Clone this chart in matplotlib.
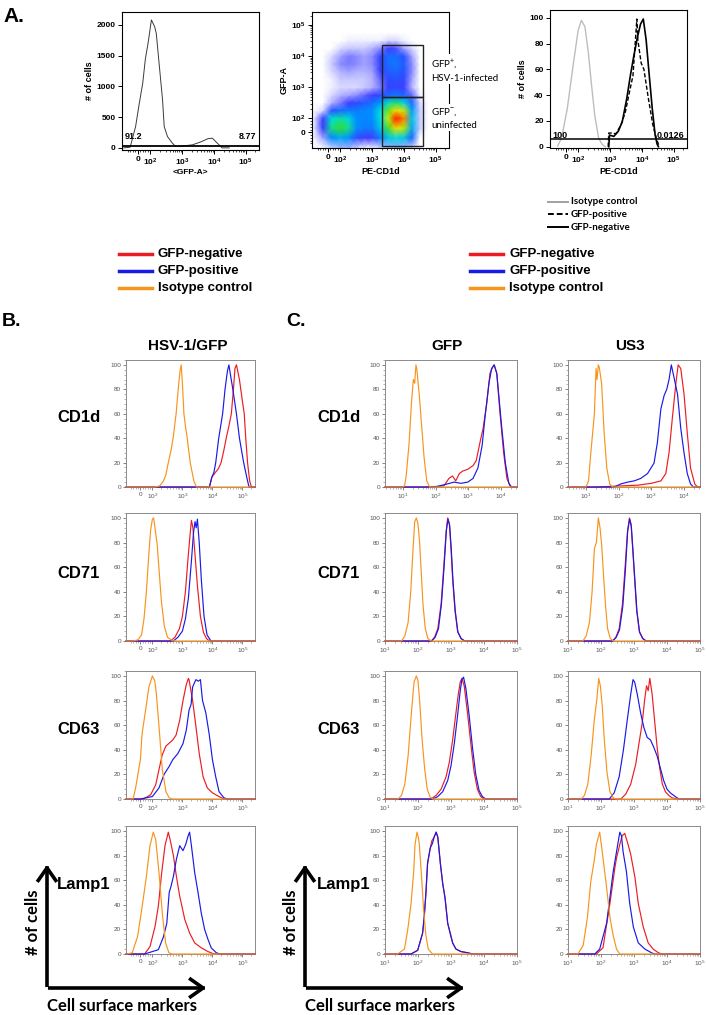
import matplotlib
matplotlib.use("Agg")
import matplotlib.pyplot as plt
import numpy as np
from matplotlib.colors import LinearSegmentedColormap
from matplotlib.lines import Line2D
from matplotlib.patches import FancyArrowPatch, Rectangle
from matplotlib.ticker import MultipleLocator, NullFormatter, FixedLocator

W, H = 706, 1015
plt.rcParams["font.family"] = ["Liberation Sans", "DejaVu Sans"]
plt.rcParams["mathtext.fontset"] = "custom"
plt.rcParams["mathtext.rm"] = "Liberation Sans"
plt.rcParams["mathtext.bf"] = "Liberation Sans:bold"
plt.rcParams["mathtext.it"] = "Liberation Sans:italic"

RED = "#ec1c24"
BLUE = "#1a1ae6"
ORANGE = "#f7941d"

# ---------------- Panel A data ----------------
# A1: GFP-A histogram (counts)
A_GFP_X = [-110, -60, -17, 10, 39, 60, 81, 107, 135, 152, 191, 240, 271, 343, 490, 620,
           1000, 2100, 4000, 6500, 8900, 12000, 18000, 30000]
A_GFP_Y = [0, 10, 347, 700, 1052, 1450, 1702, 2081, 1972, 1865, 1322, 780, 347, 184, 76, 21,
           30, 49, 100, 150, 157, 90, 0, 0]
A_GFP_GATE = 35
A_GFP_PCT = ["91.2", "8.77"]

# A2: PE-CD1d vs GFP-A density (node grid, rows = GFP-A, cols = PE-CD1d)
A_DOT_X = [-120, -40, 30, 100, 180, 320, 560, 1000, 1800, 3200, 5600, 10000, 18000, 32000, 56000]
A_DOT_Y = [-120, -40, 30, 100, 180, 320, 560, 1000, 1800, 3200, 5600, 10000, 18000, 32000, 56000]
A_DOT_Z = [
    [0, 0, 0.02, 0.04, 0.04, 0.02, 0, 0, 0.02, 0.04, 0.05, 0.04, 0.02, 0, 0],
    [0, 0.05, 0.28, 0.35, 0.3, 0.15, 0.1, 0.1, 0.25, 0.4, 0.45, 0.4, 0.2, 0, 0],
    [0, 0.12, 0.52, 0.6, 0.52, 0.3, 0.25, 0.25, 0.4, 0.62, 0.8, 0.72, 0.35, 0.03, 0],
    [0, 0.1, 0.45, 0.5, 0.44, 0.3, 0.28, 0.3, 0.45, 0.74, 0.98, 0.9, 0.4, 0.03, 0],
    [0, 0.02, 0.15, 0.22, 0.25, 0.25, 0.28, 0.3, 0.45, 0.66, 0.8, 0.74, 0.33, 0.03, 0],
    [0, 0, 0.04, 0.07, 0.1, 0.14, 0.18, 0.22, 0.32, 0.48, 0.54, 0.44, 0.22, 0.02, 0],
    [0, 0, 0.02, 0.04, 0.05, 0.06, 0.08, 0.1, 0.14, 0.2, 0.24, 0.2, 0.08, 0.01, 0],
    [0, 0, 0.01, 0.02, 0.02, 0.02, 0.03, 0.04, 0.07, 0.12, 0.13, 0.1, 0.04, 0, 0],
    [0, 0, 0.01, 0.03, 0.03, 0.03, 0.03, 0.04, 0.08, 0.14, 0.16, 0.13, 0.05, 0, 0],
    [0, 0, 0.02, 0.04, 0.05, 0.04, 0.04, 0.05, 0.1, 0.18, 0.2, 0.16, 0.06, 0, 0],
    [0, 0, 0.03, 0.06, 0.07, 0.06, 0.05, 0.06, 0.12, 0.22, 0.24, 0.18, 0.06, 0, 0],
    [0, 0, 0.02, 0.05, 0.07, 0.06, 0.05, 0.06, 0.12, 0.22, 0.22, 0.15, 0.05, 0, 0],
    [0, 0, 0, 0.02, 0.03, 0.03, 0.03, 0.04, 0.06, 0.1, 0.09, 0.05, 0.02, 0, 0],
    [0, 0, 0, 0, 0.01, 0.01, 0.01, 0.01, 0.01, 0.02, 0.02, 0.01, 0, 0, 0],
    [0, 0, 0, 0, 0, 0, 0, 0, 0, 0, 0, 0, 0, 0, 0],
]
A_GATE_X = [2100, 40000]
A_GATE_Y = [-100, 500, 22000]

# A3: PE-CD1d histograms (% of max)
A_ISO_X = [-64, -33, 12, 57, 97, 124, 160, 205, 260, 325, 430, 555, 700]
A_ISO_Y = [0.5, 6.8, 29.6, 62.5, 90, 98, 93, 72.7, 47, 24.5, 6.8, 1.8, 0]
A_POS_X = [860, 900, 1100, 1500, 2200, 3000, 4000, 5200, 6900, 7400, 9400, 11500, 16000, 22000, 28000, 35000]
A_POS_Y = [0, 10.6, 10.6, 10, 17, 27, 42, 55, 99, 83, 65, 60, 37, 17, 7, 0]
A_NEG_X = [900, 950, 1300, 1800, 2400, 3300, 4300, 5500, 7200, 9000, 11000, 13500, 17000, 21000, 26000, 30000, 33000]
A_NEG_Y = [0, 9, 8, 12, 19.5, 37, 55, 70, 85, 95, 99, 83, 55, 30, 9, 2, 0]
A_CD1D_GATE = 5.6
A_CD1D_PCT = ["100", "0.0126"]

# ---------------- Panel B data (HSV-1/GFP, biexponential x) ----------------
B_CD1D_ISO_X = [126, 178, 234, 282, 339, 417, 490, 617, 724, 832, 912, 1000, 1122, 1259, 1445, 1820, 2399, 2951]
B_CD1D_ISO_Y = [0, 1, 5, 10, 20, 30, 40, 60, 80, 95, 100, 85, 60, 50, 40, 20, 5, 0]
B_CD1D_POS_X = [7943, 9550, 11220, 12880, 16220, 21880, 26300, 31620, 35480, 39810, 47860, 63100, 79430,
                109650, 147900, 165960]
B_CD1D_POS_Y = [0, 8, 12, 20, 40, 60, 80, 95, 100, 92, 80, 60, 40, 20, 5, 0]
B_CD1D_NEG_X = [7943, 9550, 12590, 15850, 19500, 23990, 28840, 35480, 42660, 50120, 56230, 63100, 79430,
                100000, 114800, 128800, 147900, 173800, 199500]
B_CD1D_NEG_Y = [0, 8, 12, 15, 20, 30, 40, 50, 60, 80, 97, 100, 88, 70, 60, 40, 20, 5, 0]

B_CD71_ISO_X = [-60, -20, 10, 30, 50, 70, 85, 100, 110, 125, 145, 170, 200, 250, 320, 420, 520]
B_CD71_ISO_Y = [0, 1, 5, 18, 40, 70, 90, 99, 100, 90, 78, 55, 32, 12, 3, 1, 0]
B_CD71_NEG_X = [398, 562, 794, 1000, 1259, 1514, 1778, 1995, 2239, 2630, 3162, 3981, 5012, 6310, 7943]
B_CD71_NEG_Y = [0, 3, 10, 20, 40, 65, 85, 98, 92, 70, 45, 20, 7, 2, 0]
B_CD71_POS_X = [501, 708, 1000, 1259, 1585, 1995, 2344, 2630, 2884, 3162, 3631, 4266, 5248, 6607, 8913]
B_CD71_POS_Y = [0, 3, 8, 18, 35, 65, 88, 97, 92, 99, 80, 50, 20, 5, 0]

B_CD63_ISO_X = [-60, -38, 0, 14, 43, 71, 100, 120, 135, 166, 214, 282, 363, 450]
B_CD63_ISO_Y = [0, 10, 32, 53, 72, 91, 100, 96, 86, 59, 24, 6, 1, 0]
B_CD63_NEG_X = [20, 43, 86, 129, 166, 214, 282, 479, 617, 813, 1047, 1349, 1585, 1660, 2188, 2818, 3631,
                4898, 6761, 10000, 16600, 23990]
B_CD63_NEG_Y = [0, 1, 3.5, 11.6, 24, 36, 43, 48, 52, 64, 80, 93, 98, 97, 80, 59, 37, 18, 9, 5, 2, 0]
B_CD63_POS_X = [0, 100, 166, 245, 363, 479, 708, 1047, 1349, 1660, 1950, 2188, 2818, 3388, 3981, 4677,
                6026, 7762, 10000, 12880, 16600, 23990, 31620]
B_CD63_POS_Y = [0, 2, 9, 20, 26.5, 32, 37, 45, 56, 72, 77, 91, 97, 95.7, 97, 80, 70, 53, 32, 18, 6, 1, 0]

B_LAMP1_ISO_X = [-110, -68, -24, 11, 50, 80, 107, 129, 166, 214, 275, 355, 450]
B_LAMP1_ISO_Y = [0, 1, 14, 36, 63, 88, 99, 93, 66, 33, 9, 1, 0]
B_LAMP1_NEG_X = [35, 80, 123, 158, 204, 263, 339, 389, 501, 631, 813, 1202, 1738, 2570, 4266, 7079, 10000, 14000]
B_LAMP1_NEG_Y = [0, 6, 22.5, 39, 66, 88, 99, 93, 80, 63, 47, 28, 17, 9, 5, 2, 0.5, 0]
B_LAMP1_POS_X = [35, 158, 234, 302, 363, 417, 501, 631, 813, 1047, 1288, 1549, 1738, 1995, 2570, 3311,
                 4266, 5495, 7079, 9120, 13490, 18000]
B_LAMP1_POS_Y = [0, 3.5, 14, 25, 50, 55, 63, 77, 88, 84, 89, 96, 99, 88, 66, 50, 33, 20, 12, 5, 1, 0]

# ---------------- Panel C data (log10 fluorescence) ----------------
C_GFP_CD1D_ISO_LX = [1.0, 1.05, 1.1, 1.19, 1.26, 1.32, 1.36, 1.4, 1.43, 1.47, 1.5, 1.58, 1.65, 1.73, 1.82]
C_GFP_CD1D_ISO_Y = [0, 1, 9, 36, 68, 88, 85, 100, 96, 84, 76, 48, 24, 5, 0]
C_GFP_CD1D_NEG_LX = [2.0, 2.26, 2.41, 2.52, 2.62, 2.73, 2.83, 2.99, 3.15, 3.25, 3.36, 3.46, 3.57, 3.67, 3.75,
                     3.8, 3.88, 3.98, 4.09, 4.19, 4.3]
C_GFP_CD1D_NEG_Y = [0, 1, 7, 9, 5, 11, 13, 14.5, 17.5, 21.6, 36, 48, 68, 93, 98, 100, 93, 60, 28, 7, 0]
C_GFP_CD1D_POS_LX = [1.7, 2.05, 2.36, 2.57, 2.78, 2.99, 3.15, 3.3, 3.43, 3.53, 3.64, 3.72, 3.8, 3.88, 4.02,
                     4.14, 4.25, 4.33]
C_GFP_CD1D_POS_Y = [0, 0.5, 2.5, 4, 3, 4, 7, 15.5, 34, 60, 85, 97, 100, 93, 52, 20, 3, 0]

C_US3_CD1D_ISO_LX = [1.0, 1.08, 1.15, 1.26, 1.31, 1.34, 1.38, 1.41, 1.48, 1.56, 1.64, 1.73, 1.81]
C_US3_CD1D_ISO_Y = [0, 5, 28, 60, 97, 88, 100, 98, 85, 44, 15.5, 2.5, 0]
C_US3_CD1D_NEG_LX = [1.3, 2.17, 2.6, 3.0, 3.3, 3.45, 3.55, 3.65, 3.76, 3.83, 3.91, 4.01, 4.11, 4.21, 4.34, 4.42]
C_US3_CD1D_NEG_Y = [0, 1, 1.5, 3, 5, 11, 28, 56, 85, 100, 97, 76, 44, 15.5, 2.5, 0]
C_US3_CD1D_POS_LX = [1.87, 2.07, 2.28, 2.48, 2.68, 2.89, 3.09, 3.19, 3.3, 3.4, 3.48, 3.55, 3.62, 3.7, 3.81,
                     3.91, 4.01, 4.11, 4.21, 4.3]
C_US3_CD1D_POS_Y = [0, 2.5, 4, 5, 7, 11, 19.6, 36, 64, 75, 80, 88, 100, 90, 76, 48, 28, 11, 2.5, 0]

C_GFP_CD71_ISO_LX = [1.5, 1.6, 1.7, 1.78, 1.85, 1.9, 1.95, 2.0, 2.05, 2.1, 2.15, 2.22, 2.3, 2.4]
C_GFP_CD71_ISO_Y = [0, 4, 15, 40, 75, 97, 100, 95, 80, 55, 30, 10, 2, 0]
C_GFP_CD71_NEG_LX = [2.4, 2.5, 2.6, 2.7, 2.78, 2.85, 2.9, 2.95, 3.0, 3.05, 3.12, 3.2, 3.3, 3.4]
C_GFP_CD71_NEG_Y = [0, 3, 10, 30, 60, 88, 100, 95, 75, 50, 25, 8, 2, 0]
C_GFP_CD71_POS_LX = [2.42, 2.52, 2.62, 2.71, 2.79, 2.86, 2.91, 2.96, 3.01, 3.06, 3.13, 3.21, 3.31, 3.42]
C_GFP_CD71_POS_Y = [0, 3, 10, 30, 60, 90, 99, 94, 74, 49, 24, 7, 2, 0]

C_US3_CD71_ISO_LX = [1.45, 1.55, 1.65, 1.73, 1.8, 1.86, 1.92, 1.97, 2.02, 2.08, 2.14, 2.2, 2.28, 2.38]
C_US3_CD71_ISO_Y = [0, 4, 15, 40, 75, 80, 100, 92, 78, 52, 28, 10, 2, 0]
C_US3_CD71_NEG_LX = [2.35, 2.45, 2.55, 2.65, 2.73, 2.8, 2.86, 2.91, 2.96, 3.02, 3.08, 3.16, 3.26, 3.36]
C_US3_CD71_NEG_Y = [0, 3, 10, 30, 60, 88, 100, 95, 75, 50, 25, 8, 2, 0]
C_US3_CD71_POS_LX = [2.36, 2.46, 2.56, 2.66, 2.74, 2.81, 2.87, 2.92, 2.97, 3.03, 3.09, 3.17, 3.27, 3.37]
C_US3_CD71_POS_Y = [0, 3, 9, 28, 58, 90, 99, 93, 73, 48, 24, 7, 2, 0]

C_GFP_CD63_ISO_LX = [1.4, 1.5, 1.6, 1.7, 1.8, 1.88, 1.95, 2.0, 2.05, 2.12, 2.2, 2.28, 2.36, 2.45]
C_GFP_CD63_ISO_Y = [0, 3, 12, 35, 70, 95, 100, 96, 80, 50, 25, 8, 2, 0]
C_GFP_CD63_NEG_LX = [2.4, 2.55, 2.7, 2.85, 2.95, 3.05, 3.15, 3.22, 3.28, 3.33, 3.4, 3.5, 3.6, 3.7, 3.8, 3.9, 4.0]
C_GFP_CD63_NEG_Y = [0, 3, 8, 18, 30, 48, 70, 85, 95, 98, 92, 70, 45, 22, 8, 2, 0]
C_GFP_CD63_POS_LX = [2.45, 2.6, 2.75, 2.9, 3.0, 3.1, 3.2, 3.28, 3.33, 3.38, 3.45, 3.55, 3.65, 3.75, 3.85, 3.95, 4.05]
C_GFP_CD63_POS_Y = [0, 2, 6, 15, 27, 45, 68, 88, 97, 99, 90, 68, 42, 20, 7, 2, 0]

C_US3_CD63_ISO_LX = [1.4, 1.5, 1.6, 1.7, 1.8, 1.87, 1.93, 1.98, 2.04, 2.1, 2.18, 2.27, 2.37, 2.45]
C_US3_CD63_ISO_Y = [0, 3, 12, 35, 65, 80, 98, 92, 75, 48, 22, 6, 1, 0]
C_US3_CD63_NEG_LX = [2.6, 2.75, 2.9, 3.05, 3.15, 3.25, 3.32, 3.38, 3.43, 3.48, 3.55, 3.62, 3.7, 3.78, 3.86, 3.95,
                     4.05, 4.15, 4.3]
C_US3_CD63_NEG_Y = [0, 4, 12, 28, 45, 62, 80, 92, 88, 98, 85, 65, 42, 25, 12, 6, 3, 1, 0]
C_US3_CD63_POS_LX = [2.25, 2.4, 2.55, 2.68, 2.8, 2.9, 2.97, 3.02, 3.1, 3.2, 3.3, 3.4, 3.5, 3.6, 3.7, 3.8, 3.9,
                     4.0, 4.1, 4.2, 4.3, 4.38]
C_US3_CD63_POS_Y = [0, 5, 18, 40, 65, 85, 97, 95, 85, 70, 58, 50, 48, 42, 35, 25, 15, 8, 5, 3, 1, 0]

C_GFP_LAMP1_ISO_LX = [1.38, 1.59, 1.69, 1.79, 1.87, 1.91, 1.97, 2.01, 2.04, 2.11, 2.17, 2.24, 2.31, 2.44]
C_GFP_LAMP1_ISO_Y = [0, 4, 20, 41, 67, 89, 99, 95, 89, 62, 36, 15, 4, 0]
C_GFP_LAMP1_NEG_LX = [1.79, 1.99, 2.14, 2.19, 2.24, 2.29, 2.37, 2.42, 2.49, 2.55, 2.6, 2.68, 2.75, 2.82, 2.9,
                      2.98, 3.05, 3.15, 3.3, 3.5, 3.66]
C_GFP_LAMP1_NEG_Y = [0, 3, 17, 30, 49, 73, 86, 92, 95, 99, 95, 73, 57, 46, 25, 17, 9, 4, 2, 1, 0]
C_GFP_LAMP1_POS_LX = [1.79, 1.99, 2.14, 2.19, 2.24, 2.29, 2.37, 2.44, 2.49, 2.55, 2.6, 2.68, 2.75, 2.82, 2.9,
                      2.98, 3.05, 3.15, 3.3, 3.5, 3.66]
C_GFP_LAMP1_POS_Y = [0, 3, 17, 31, 50, 74, 86, 90, 95, 99, 95, 73, 57, 45, 25, 16, 9, 4, 2, 1, 0]

C_US3_LAMP1_ISO_LX = [1.3, 1.46, 1.59, 1.69, 1.79, 1.86, 1.96, 2.01, 2.06, 2.17, 2.27, 2.37, 2.47, 2.57]
C_US3_LAMP1_ISO_Y = [0, 7, 30, 59, 75, 89, 99, 89, 78, 54, 30, 15, 4, 0]
C_US3_LAMP1_NEG_LX = [1.86, 2.06, 2.27, 2.42, 2.47, 2.57, 2.64, 2.72, 2.82, 2.9, 3.03, 3.13, 3.28, 3.43, 3.58,
                      3.74, 3.85]
C_US3_LAMP1_NEG_Y = [0, 5, 41, 70, 78, 89, 96, 98, 89, 81, 62, 41, 22, 9, 4, 1, 0]
C_US3_LAMP1_POS_LX = [1.81, 1.96, 2.17, 2.27, 2.37, 2.47, 2.57, 2.62, 2.67, 2.77, 2.87, 2.98, 3.13, 3.33, 3.53, 3.63]
C_US3_LAMP1_POS_Y = [0, 4, 25, 46, 67, 83, 99, 96, 83, 67, 41, 22, 9, 4, 1, 0]

MARKERS = ["CD1d", "CD71", "CD63", "Lamp1"]
LEGEND_LABELS = ["GFP-negative", "GFP-positive", "Isotype control"]
A_LEGEND_LABELS = ["Isotype control", "GFP-positive", "GFP-negative"]

# layout (pixel rows: top, bottom)
ROW_BOX = [(360, 487), (513, 641), (671, 799), (826, 954)]
ROW_LABEL_Y = [418, 573, 730, 885]
COL_B = (126, 255)
COL_GFP = (385, 517)
COL_US3 = (568, 700)


def add_ax(fig, x0, y0, x1, y1):
    return fig.add_axes([x0 / W, 1 - y1 / H, (x1 - x0) / W, (y1 - y0) / H])


def fy(y):
    return 1 - y / H


BIEX_TICKS = [0, 1e2, 1e3, 1e4, 1e5]
BIEX_MINOR = ([-80, -60, -40, -20, 20, 40, 60, 80]
              + [k * 10 ** d for d in (2, 3, 4) for k in range(2, 10)] + [2e5])


def biex(axis, bold):
    axis.set_major_locator(FixedLocator(BIEX_TICKS))
    axis.set_minor_locator(FixedLocator(BIEX_MINOR))
    if bold:
        labs = ["0"] + [r"$\mathbf{10^{%d}}$" % d for d in (2, 3, 4, 5)]
    else:
        labs = ["0"] + [r"$10^{%d}$" % d for d in (2, 3, 4, 5)]
    axis.set_ticklabels(labs)


def style_a(ax):
    for s in ax.spines.values():
        s.set_linewidth(0.8)
    ax.tick_params(which="major", length=3, width=0.7, labelsize=6, pad=1.5)
    ax.tick_params(which="minor", length=1.5, width=0.5)
    for t in ax.get_xticklabels() + ax.get_yticklabels():
        t.set_fontweight("bold")


def style_hist(ax):
    for s in ax.spines.values():
        s.set_linewidth(0.7)
        s.set_color("#8a8a8a")
    ax.tick_params(which="major", length=2, width=0.5, labelsize=4.6, pad=1.5,
                   colors="#555555")
    ax.tick_params(which="minor", length=1.2, width=0.4, colors="#777777")
    ax.set_ylim(0, 104)
    ax.yaxis.set_major_locator(FixedLocator([0, 20, 40, 60, 80, 100]))
    ax.yaxis.set_minor_locator(MultipleLocator(4))


def draw_curves(ax, curves, x0, x1):
    for xs, ys, col in curves:
        xs = np.concatenate([[x0], np.asarray(xs, float), [x1]])
        ys = np.concatenate([[0], np.asarray(ys, float), [0]])
        ax.plot(xs, ys, color=col, lw=0.85, zorder=3, clip_on=False)


fig = plt.figure(figsize=(W / 100, H / 100), dpi=100)

# ---------------- Panel A ----------------
fig.text(3 / W, fy(16), "A.", fontsize=15, fontweight="bold", va="center", ha="left")

ax1 = add_ax(fig, 122, 12, 259, 150)
ax1.set_xscale("symlog", linthresh=100, linscale=0.36)
ax1.set_xlim(-125, 2.62e5)
ax1.set_ylim(-35, 2210)
ax1.plot(A_GFP_X, A_GFP_Y, color="#3a3a3a", lw=0.7)
ax1.axhline(A_GFP_GATE, color="black", lw=1.3)
biex(ax1.xaxis, True)
ax1.yaxis.set_major_locator(FixedLocator([0, 500, 1000, 1500, 2000]))
style_a(ax1)
ax1.set_xlabel("<GFP-A>", fontsize=6, fontweight="bold", labelpad=1)
ax1.set_ylabel("# of cells", fontsize=6.5, fontweight="bold", labelpad=2)
ax1.text(0.02, 0.08, A_GFP_PCT[0], transform=ax1.transAxes, fontsize=6.5, fontweight="bold")
ax1.text(0.98, 0.08, A_GFP_PCT[1], transform=ax1.transAxes, fontsize=6.5, fontweight="bold", ha="right")

cmap = LinearSegmentedColormap.from_list(
    "facs", [(0, "#ffffff"), (0.03, "#c4c4ff"), (0.1, "#3a3aff"), (0.3, "#0090ff"),
             (0.45, "#00dcdc"), (0.6, "#30dd30"), (0.78, "#f0f000"), (0.9, "#ff8000"),
             (1.0, "#ff0000")])
ax2 = add_ax(fig, 312, 12, 449, 148)
ax2.set_xscale("symlog", linthresh=100, linscale=0.36)
ax2.set_yscale("symlog", linthresh=100, linscale=0.4)
GX, GY = np.meshgrid(A_DOT_X, A_DOT_Y)
ax2.pcolormesh(GX, GY, np.array(A_DOT_Z), shading="gouraud", cmap=cmap, vmin=0, vmax=1)
ax2.set_xlim(-125, 2.62e5)
ax2.set_ylim(-115, 2.62e5)
for y0, y1 in ((A_GATE_Y[1], A_GATE_Y[2]), (A_GATE_Y[0], A_GATE_Y[1])):
    ax2.add_patch(Rectangle((A_GATE_X[0], y0), A_GATE_X[1] - A_GATE_X[0], y1 - y0,
                            fill=False, ec="#222222", lw=1.0, zorder=4))
biex(ax2.xaxis, True)
biex(ax2.yaxis, True)
style_a(ax2)
ax2.set_xlabel("PE-CD1d", fontsize=6.5, fontweight="bold", labelpad=1)
ax2.set_ylabel("GFP-A", fontsize=6.5, fontweight="bold", labelpad=2)
ax2.text(0.872, 0.575, "GFP$^{+}$,\nHSV-1-infected", transform=ax2.transAxes, fontsize=7,
         family=["Lato", "DejaVu Sans"], va="center", ha="left", linespacing=1.5, zorder=6,
         bbox=dict(fc="white", ec="none", pad=0.5), clip_on=False)
ax2.text(0.872, 0.22, "GFP$^{-}$,\nuninfected", transform=ax2.transAxes, fontsize=7,
         family=["Lato", "DejaVu Sans"], va="center", ha="left", linespacing=1.5, zorder=6,
         bbox=dict(fc="white", ec="none", pad=0.5), clip_on=False)

ax3 = add_ax(fig, 550, 10, 687, 148)
ax3.set_xscale("symlog", linthresh=100, linscale=0.36)
ax3.set_xlim(-125, 2.62e5)
ax3.set_ylim(-1, 106)
ax3.plot(A_ISO_X, A_ISO_Y, color="#bdbdbd", lw=1.0)
ax3.plot(A_POS_X, A_POS_Y, color="black", lw=1.0, ls=(0, (3, 1.5)))
ax3.plot(A_NEG_X, A_NEG_Y, color="black", lw=1.2)
ax3.axhline(A_CD1D_GATE, color="black", lw=1.1)
biex(ax3.xaxis, True)
ax3.yaxis.set_major_locator(FixedLocator([0, 20, 40, 60, 80, 100]))
style_a(ax3)
ax3.set_xlabel("PE-CD1d", fontsize=6.5, fontweight="bold", labelpad=1)
ax3.set_ylabel("# of cells", fontsize=6.5, fontweight="bold", labelpad=2)
ax3.text(0.02, 0.075, A_CD1D_PCT[0], transform=ax3.transAxes, fontsize=6.5, fontweight="bold")
ax3.text(0.98, 0.075, A_CD1D_PCT[1], transform=ax3.transAxes, fontsize=6.5, fontweight="bold", ha="right")

# black legend of A3
for i, (lab, st) in enumerate(zip(A_LEGEND_LABELS,
                                  [("#a0a0a0", "-"), ("black", (0, (3, 1.5))), ("black", "-")])):
    yy = fy(202 + i * 12.5)
    fig.add_artist(Line2D([548 / W, 568 / W], [yy, yy], color=st[0], ls=st[1], lw=1.4))
    fig.text(571 / W, yy, lab, fontsize=7, fontweight="bold", family=["Lato", "DejaVu Sans"],
             va="center", ha="left")

# colour legends
for x_line in (119, 470):
    for i, (lab, col) in enumerate(zip(LEGEND_LABELS, [RED, BLUE, ORANGE])):
        yy = fy(254 + i * 17)
        fig.add_artist(Line2D([x_line / W, (x_line + 33) / W], [yy, yy], color=col, lw=2.5))
        fig.text((x_line + 39) / W, yy, lab, fontsize=9.5, fontweight="bold", va="center", ha="left")

# ---------------- Panels B and C ----------------
fig.text(2 / W, fy(322), "B.", fontsize=14, fontweight="bold", va="center", ha="left")
fig.text(286 / W, fy(322), "C.", fontsize=14, fontweight="bold", va="center", ha="left")
fig.text(188 / W, fy(346), "HSV-1/GFP", fontsize=11, fontweight="bold", va="center", ha="center")
fig.text(447 / W, fy(346), "GFP", fontsize=11, fontweight="bold", va="center", ha="center")
fig.text(630 / W, fy(346), "US3", fontsize=11, fontweight="bold", va="center", ha="center")

B_DATA = [
    [(B_CD1D_NEG_X, B_CD1D_NEG_Y), (B_CD1D_POS_X, B_CD1D_POS_Y), (B_CD1D_ISO_X, B_CD1D_ISO_Y)],
    [(B_CD71_NEG_X, B_CD71_NEG_Y), (B_CD71_POS_X, B_CD71_POS_Y), (B_CD71_ISO_X, B_CD71_ISO_Y)],
    [(B_CD63_NEG_X, B_CD63_NEG_Y), (B_CD63_POS_X, B_CD63_POS_Y), (B_CD63_ISO_X, B_CD63_ISO_Y)],
    [(B_LAMP1_NEG_X, B_LAMP1_NEG_Y), (B_LAMP1_POS_X, B_LAMP1_POS_Y), (B_LAMP1_ISO_X, B_LAMP1_ISO_Y)],
]
C_GFP_DATA = [
    [(C_GFP_CD1D_NEG_LX, C_GFP_CD1D_NEG_Y), (C_GFP_CD1D_POS_LX, C_GFP_CD1D_POS_Y), (C_GFP_CD1D_ISO_LX, C_GFP_CD1D_ISO_Y)],
    [(C_GFP_CD71_NEG_LX, C_GFP_CD71_NEG_Y), (C_GFP_CD71_POS_LX, C_GFP_CD71_POS_Y), (C_GFP_CD71_ISO_LX, C_GFP_CD71_ISO_Y)],
    [(C_GFP_CD63_NEG_LX, C_GFP_CD63_NEG_Y), (C_GFP_CD63_POS_LX, C_GFP_CD63_POS_Y), (C_GFP_CD63_ISO_LX, C_GFP_CD63_ISO_Y)],
    [(C_GFP_LAMP1_NEG_LX, C_GFP_LAMP1_NEG_Y), (C_GFP_LAMP1_POS_LX, C_GFP_LAMP1_POS_Y), (C_GFP_LAMP1_ISO_LX, C_GFP_LAMP1_ISO_Y)],
]
C_US3_DATA = [
    [(C_US3_CD1D_NEG_LX, C_US3_CD1D_NEG_Y), (C_US3_CD1D_POS_LX, C_US3_CD1D_POS_Y), (C_US3_CD1D_ISO_LX, C_US3_CD1D_ISO_Y)],
    [(C_US3_CD71_NEG_LX, C_US3_CD71_NEG_Y), (C_US3_CD71_POS_LX, C_US3_CD71_POS_Y), (C_US3_CD71_ISO_LX, C_US3_CD71_ISO_Y)],
    [(C_US3_CD63_NEG_LX, C_US3_CD63_NEG_Y), (C_US3_CD63_POS_LX, C_US3_CD63_POS_Y), (C_US3_CD63_ISO_LX, C_US3_CD63_ISO_Y)],
    [(C_US3_LAMP1_NEG_LX, C_US3_LAMP1_NEG_Y), (C_US3_LAMP1_POS_LX, C_US3_LAMP1_POS_Y), (C_US3_LAMP1_ISO_LX, C_US3_LAMP1_ISO_Y)],
]
COLORS = [RED, BLUE, ORANGE]

for r, (top, bot) in enumerate(ROW_BOX):
    # B column
    ax = add_ax(fig, COL_B[0], top, COL_B[1], bot)
    ax.set_xscale("symlog", linthresh=100, linscale=0.36)
    xmin, xmax = -120, 2.62e5
    ax.set_xlim(xmin, xmax)
    draw_curves(ax, [(xs, ys, c) for (xs, ys), c in zip(B_DATA[r], COLORS)], xmin, xmax)
    biex(ax.xaxis, False)
    style_hist(ax)
    # C columns
    for (c0, c1), data in ((COL_GFP, C_GFP_DATA), (COL_US3, C_US3_DATA)):
        ax = add_ax(fig, c0, top, c1, bot)
        ax.set_xscale("log")
        if r == 0:
            xmin, xmax = 10 ** 0.45, 10 ** 4.5
            ax.xaxis.set_major_locator(FixedLocator([1e1, 1e2, 1e3, 1e4]))
        else:
            xmin, xmax = 1e1, 1e5
            ax.xaxis.set_major_locator(FixedLocator([1e1, 1e2, 1e3, 1e4, 1e5]))
        ax.set_xlim(xmin, xmax)
        curves = [(10 ** np.asarray(lx), ys, c) for (lx, ys), c in zip(data[r], COLORS)]
        draw_curves(ax, curves, xmin, xmax)
        ax.xaxis.set_minor_formatter(NullFormatter())
        style_hist(ax)
    fig.text(57 / W, fy(ROW_LABEL_Y[r]), MARKERS[r], fontsize=12, fontweight="bold", va="center", ha="left")
    fig.text(317 / W, fy(ROW_LABEL_Y[r]), MARKERS[r], fontsize=12, fontweight="bold", va="center", ha="left")

# axis arrows
for xa, xt in ((47, 33), (305, 291)):
    x_end = xa + 162
    fig.add_artist(FancyArrowPatch((xa / W, fy(988)), (xa / W, fy(862)), transform=fig.transFigure,
                                   arrowstyle="->,head_length=0.5,head_width=0.35", mutation_scale=18,
                                   lw=2.6, color="black", capstyle="projecting"))
    fig.add_artist(FancyArrowPatch((xa / W, fy(988)), (x_end / W, fy(988)), transform=fig.transFigure,
                                   arrowstyle="->,head_length=0.5,head_width=0.35", mutation_scale=18,
                                   lw=2.6, color="black", capstyle="projecting"))
    fig.text(xt / W, fy(922), "# of cells", rotation=90, fontsize=12, fontweight="bold",
             family=["Lato", "DejaVu Sans"], va="center", ha="center")
    fig.text(xa / W, fy(1006), "Cell surface markers", fontsize=12, fontweight="bold",
             family=["Lato", "DejaVu Sans"], va="center", ha="left")

fig.savefig("out.png", dpi=100)
